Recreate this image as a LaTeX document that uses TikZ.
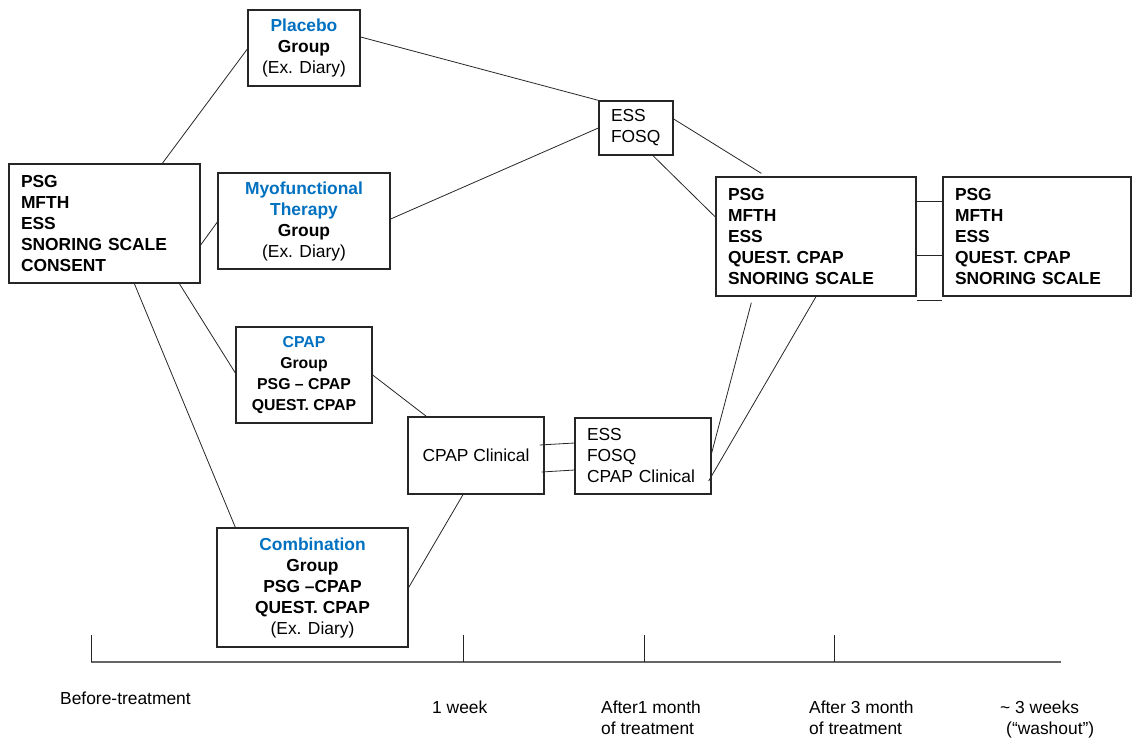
\documentclass[tikz,border=0pt]{standalone}
\usepackage{fontspec}
\setmainfont{Liberation Sans}
\definecolor{tblue}{HTML}{0070C0}
\begin{document}
\begin{tikzpicture}[x=1pt,y=-1pt,
  every node/.style={font=\fontsize{17.4}{21}\selectfont, inner sep=0pt},
  box/.style={draw=black!85, line width=1.3pt, inner ysep=0pt},
  lbox/.style={box, align=left, inner xsep=12pt},
  cbox/.style={box, align=center},
  bold/.style={font=\fontsize{17.4}{21}\selectfont\bfseries},
  conn/.style={line width=0.8pt, draw=black!85},
  tl/.style={line width=1.4pt, draw=black!60},
  tickline/.style={line width=1pt, draw=black!85},
  lab/.style={anchor=base west}]
\useasboundingbox (0,0) rectangle (1132,737);

% boxes
\node[lbox, bold, text width=167pt, minimum height=119pt] (pre) at (104.5,223.5)
  {PSG\\MFTH\\ESS\\SNORING SCALE\\CONSENT};
\node[cbox, minimum width=112pt, minimum height=76pt] (plac) at (304,48)
  {\textbf{\color{tblue}Placebo}\\\textbf{Group}\\(Ex. Diary)};
\node[cbox, minimum width=172pt, minimum height=96pt] (myo) at (304,221)
  {\textbf{\color{tblue}Myofunctional}\\\textbf{\color{tblue}Therapy}\\\textbf{Group}\\(Ex. Diary)};
\node[cbox, minimum width=136pt, minimum height=96pt, font=\fontsize{15.8}{21}\selectfont\bfseries] (cpap) at (304,375)
  {{\color{tblue}CPAP}\\Group\\PSG – CPAP\\QUEST. CPAP};
\node[cbox, minimum width=191pt, minimum height=119pt] (comb) at (312.5,587.5)
  {\textbf{\color{tblue}Combination}\\\textbf{Group}\\\textbf{PSG –CPAP}\\\textbf{QUEST. CPAP}\\(Ex. Diary)};
\node[lbox, text width=50pt, minimum height=54pt] (essA) at (636,128)
  {ESS\\FOSQ};
\node[cbox, minimum width=136pt, minimum height=77pt] (clin) at (476,455.5)
  {CPAP Clinical};
\node[lbox, text width=112pt, minimum height=76pt] (essB) at (643,456)
  {ESS\\FOSQ\\CPAP Clinical};
\node[lbox, bold, text width=176pt, minimum height=119pt] (post1) at (816,236.5)
  {PSG\\MFTH\\ESS\\QUEST. CPAP\\SNORING SCALE};
\node[lbox, bold, text width=164pt, minimum height=119pt] (post2) at (1037,236.5)
  {PSG\\MFTH\\ESS\\QUEST. CPAP\\SNORING SCALE};

% connectors
\draw[conn] ([xshift=154pt]pre.north west) -- ([yshift=-1pt]plac.west);
\draw[conn] ([yshift=-21.5pt]pre.east) -- ([yshift=-1pt]myo.west);
\draw[conn] ([xshift=171pt]pre.south west) -- ([yshift=2pt]cpap.west);
\draw[conn] ([xshift=126pt]pre.south west) -- ([xshift=19pt]comb.north west);
\draw[conn] ([yshift=11pt]plac.east) -- (essA.north west);
\draw[conn] ([yshift=2pt]myo.east) -- (essA.west);
\draw[conn] ([yshift=9pt]essA.east) -- ([xshift=46pt,yshift=3pt]post1.north west);
\draw[conn] ([xshift=17pt]essA.south) -- ([yshift=19.5pt]post1.west);
\draw[conn] (cpap.east) -- ([xshift=19pt]clin.north west);
\draw[conn] ([xshift=-5pt,yshift=10.5pt]clin.east) -- ([yshift=13pt]essB.west);
\draw[conn] ([xshift=-3pt,yshift=-16.5pt]clin.east) -- ([yshift=-14pt]essB.west);
\draw[conn] ([xshift=-13pt]clin.south) -- (comb.east);
\draw[conn] ([xshift=36pt,yshift=-6pt]post1.south west) -- ([yshift=3pt]essB.east);
\draw[conn] (post1.south) -- ([xshift=-3pt,yshift=-25pt]essB.east);
\draw[conn] ([yshift=35.5pt]post1.east) -- ([yshift=35.5pt]post2.west);
\draw[conn] ([yshift=-18.5pt]post1.east) -- ([yshift=-18.5pt]post2.west);
\draw[conn] ([yshift=-4pt]post1.south east) -- ([yshift=-4pt]post2.south west);

% timeline
\coordinate (t0) at (91,662);
\coordinate (t1) at (463,662);
\coordinate (t2) at (644,662);
\coordinate (t3) at (834,662);
\coordinate (tend) at (1061,662);
\draw[tl] (t0) -- (tend);
\foreach \t in {t0,t1,t2,t3} \draw[tickline] (\t) -- ++(0,-27);

\node[lab] (l0) at (60,704) {Before-treatment};
\node[lab] (l1) at (432,713) {1 week};
\node[lab] (l2) at (601,713) {After1 month};
\node[lab] (l2b) at (601,734) {of treatment};
\node[lab] (l3) at (809,713) {After 3 month};
\node[lab] (l3b) at (809,734) {of treatment};
\node[lab] (l4) at (1000,713) {\textasciitilde{} 3 weeks};
\node[lab] (l4b) at (1006,734) {(“washout”)};
\end{tikzpicture}
\end{document}
